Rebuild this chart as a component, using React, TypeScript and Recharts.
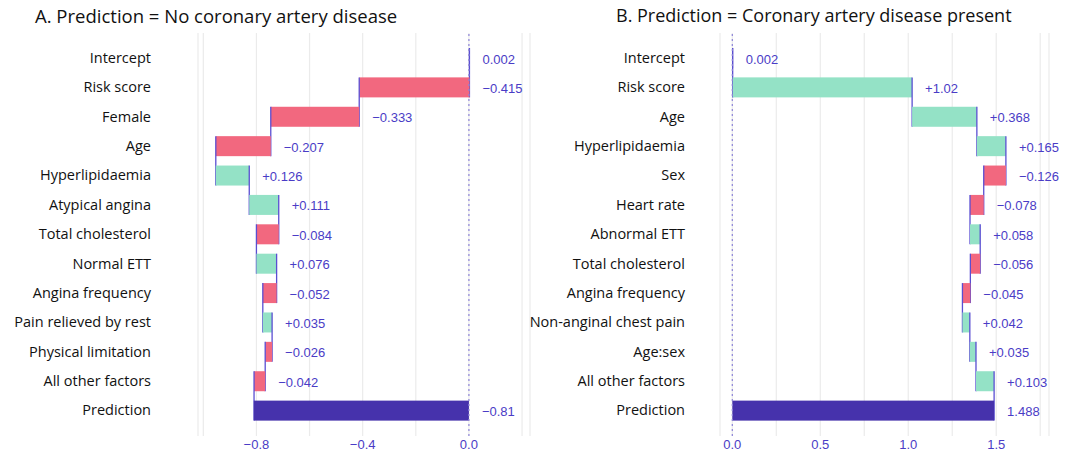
import React from "react";
import {
  BarChart,
  Bar,
  XAxis,
  YAxis,
  CartesianGrid,
  ReferenceLine
} from "recharts";

// Panel A: no coronary artery disease
const namesA = [
  "Risk score",
  "Female",
  "Age",
  "Hyperlipidaemia",
  "Atypical angina",
  "Total cholesterol",
  "Normal ETT",
  "Angina frequency",
  "Pain relieved by rest",
  "Physical limitation",
  "All other factors"
];
const contribA = [-0.415, -0.333, -0.207, 0.126, 0.111, -0.084, 0.076, -0.052, 0.035, -0.026, -0.042];
const interceptA = 0.002;
const predictionA = -0.81;
const ticksA = [-1.0, -0.8, -0.6, -0.4, -0.2, 0.0, 0.2];

// Panel B: coronary artery disease present
const namesB = [
  "Risk score",
  "Age",
  "Hyperlipidaemia",
  "Sex",
  "Heart rate",
  "Abnormal ETT",
  "Total cholesterol",
  "Angina frequency",
  "Non-anginal chest pain",
  "Age:sex",
  "All other factors"
];
const contribB = [1.02, 0.368, 0.165, -0.126, -0.078, 0.058, -0.056, -0.045, 0.042, 0.035, 0.103];
const interceptB = 0.002;
const predictionB = 1.488;
const ticksB = [0, 0.25, 0.5, 0.75, 1.0, 1.25, 1.5, 1.75];

const RED = "#f2687f";
const GREEN = "#94e2c6";
const PURPLE = "#4632ac";
const LINE = "#5a4ed2";
const TEXT_BLUE = "#4a3cc6";

const H = 454;
const TOP = 33;
const X_AXIS_H = 18;
const PAD_TOP = 10;
const PAD_BOTTOM = 11;
const PLOT_H = H - TOP - X_AXIS_H;

type Row = {
  name: string;
  range: [number, number];
  kind: "base" | "pos" | "neg" | "pred";
  label: string;
  last?: boolean;
};

const fmt = (v: number, signed: boolean) =>
  (v < 0 ? "\u2212" : signed ? "+" : "") + String(Math.abs(v));

function buildRows(names: string[], contrib: number[], intercept: number, pred: number): Row[] {
  const rows: Row[] = [{ name: "Intercept", range: [0, intercept], kind: "base", label: fmt(intercept, false) }];
  let cum = intercept;
  names.forEach((n, i) => {
    const c = contrib[i];
    rows.push({ name: n, range: [cum, cum + c], kind: c < 0 ? "neg" : "pos", label: fmt(c, true) });
    cum += c;
  });
  rows.push({ name: "Prediction", range: [0, pred], kind: "pred", label: fmt(pred, false), last: true });
  return rows;
}

const rowsA = buildRows(namesA, contribA, interceptA, predictionA);
const rowsB = buildRows(namesB, contribB, interceptB, predictionB);

const makeShape = (rowStep: number) => (props: any) => {
  const { x, y, width, height, payload } = props;
  const left = Math.min(x, x + width);
  const w = Math.abs(width);
  const [s, e] = payload.range;
  const endX = e >= s ? left + w : left;
  const fill =
    payload.kind === "neg" ? RED : payload.kind === "pos" ? GREEN : PURPLE;
  return (
    <g>
      <rect x={left} y={y} width={Math.max(w, 0.8)} height={height} fill={fill} />
      {!payload.last && (
        <line
          x1={endX}
          x2={endX}
          y1={y}
          y2={y + rowStep + height}
          stroke={LINE}
          strokeWidth={1.3}
        />
      )}
      <text
        x={left + w + 13}
        y={y + height / 2 + 1}
        fill={TEXT_BLUE}
        fontSize={13}
        fontFamily="Liberation Sans, Arial, sans-serif"
        dominantBaseline="central"
      >
        {payload.label}
      </text>
    </g>
  );
};

function Panel({
  rows,
  ticks,
  domain,
  labelEvery,
  width,
  yWidth,
  tickGap,
  marginRight
}: {
  rows: Row[];
  ticks: number[];
  domain: [number, number];
  labelEvery: (v: number) => boolean;
  width: number;
  yWidth: number;
  tickGap: number;
  marginRight: number;
}) {
  const rowStep = (PLOT_H - PAD_TOP - PAD_BOTTOM) / rows.length;
  return (
    <BarChart
      width={width}
      height={H}
      data={rows}
      layout="vertical"
      margin={{ top: TOP, right: marginRight, bottom: 0, left: 0 }}
      barSize={20}
    >
      <CartesianGrid horizontal={false} stroke="#ebebeb" strokeWidth={1.2} />
      <XAxis
        type="number"
        domain={domain}
        ticks={ticks}
        height={X_AXIS_H}
        axisLine={false}
        tickLine={false}
        tickSize={0}
        tickMargin={4}
        interval={0}
        tick={{ fill: TEXT_BLUE, fontSize: 13, fontFamily: "Liberation Sans, Arial, sans-serif" }}
        tickFormatter={(v: number) => (labelEvery(v) ? v.toFixed(1).replace("-", "\u2212") : "")}
      />
      <YAxis
        type="category"
        dataKey="name"
        width={yWidth}
        axisLine={false}
        tickLine={false}
        tickSize={0}
        tickMargin={tickGap}
        interval={0}
        padding={{ top: PAD_TOP, bottom: PAD_BOTTOM }}
        tick={{ fill: "#111111", fontSize: 14.5, fontFamily: "Open Sans, sans-serif" }}
      />
      <ReferenceLine x={0} stroke="#8d84d8" strokeDasharray="2 3" strokeWidth={1.2} />
      <Bar dataKey="range" shape={makeShape(rowStep)} isAnimationActive={false} />
    </BarChart>
  );
}

const titleStyle: React.CSSProperties = {
  position: "absolute",
  top: 3,
  fontFamily: "Open Sans, sans-serif",
  fontSize: 18.5,
  color: "#111111",
  whiteSpace: "nowrap"
};

export default function App() {
  return (
    <div style={{ position: "absolute", left: 0, top: 0, width: 1080, height: H, background: "#ffffff" }}>
      <div style={{ position: "absolute", left: 0, top: 0 }}>
        <Panel
          rows={rowsA}
          ticks={ticksA}
          domain={[-1.02, 0.23]}
          labelEvery={(v) => Math.round(v * 10) % 4 === 0}
          width={540}
          yWidth={198}
          tickGap={47}
          marginRight={10}
        />
      </div>
      <div style={{ position: "absolute", left: 500, top: 0 }}>
        <Panel
          rows={rowsB}
          ticks={ticksB}
          domain={[-0.07, 1.8]}
          labelEvery={(v) => Math.round(v * 100) % 50 === 0}
          width={580}
          yWidth={220}
          tickGap={35}
          marginRight={31}
        />
      </div>
      <div style={{ ...titleStyle, left: 35 }}>A. Prediction = No coronary artery disease</div>
      <div style={{ ...titleStyle, left: 616, fontSize: 18 }}>B. Prediction = Coronary artery disease present</div>
    </div>
  );
}
